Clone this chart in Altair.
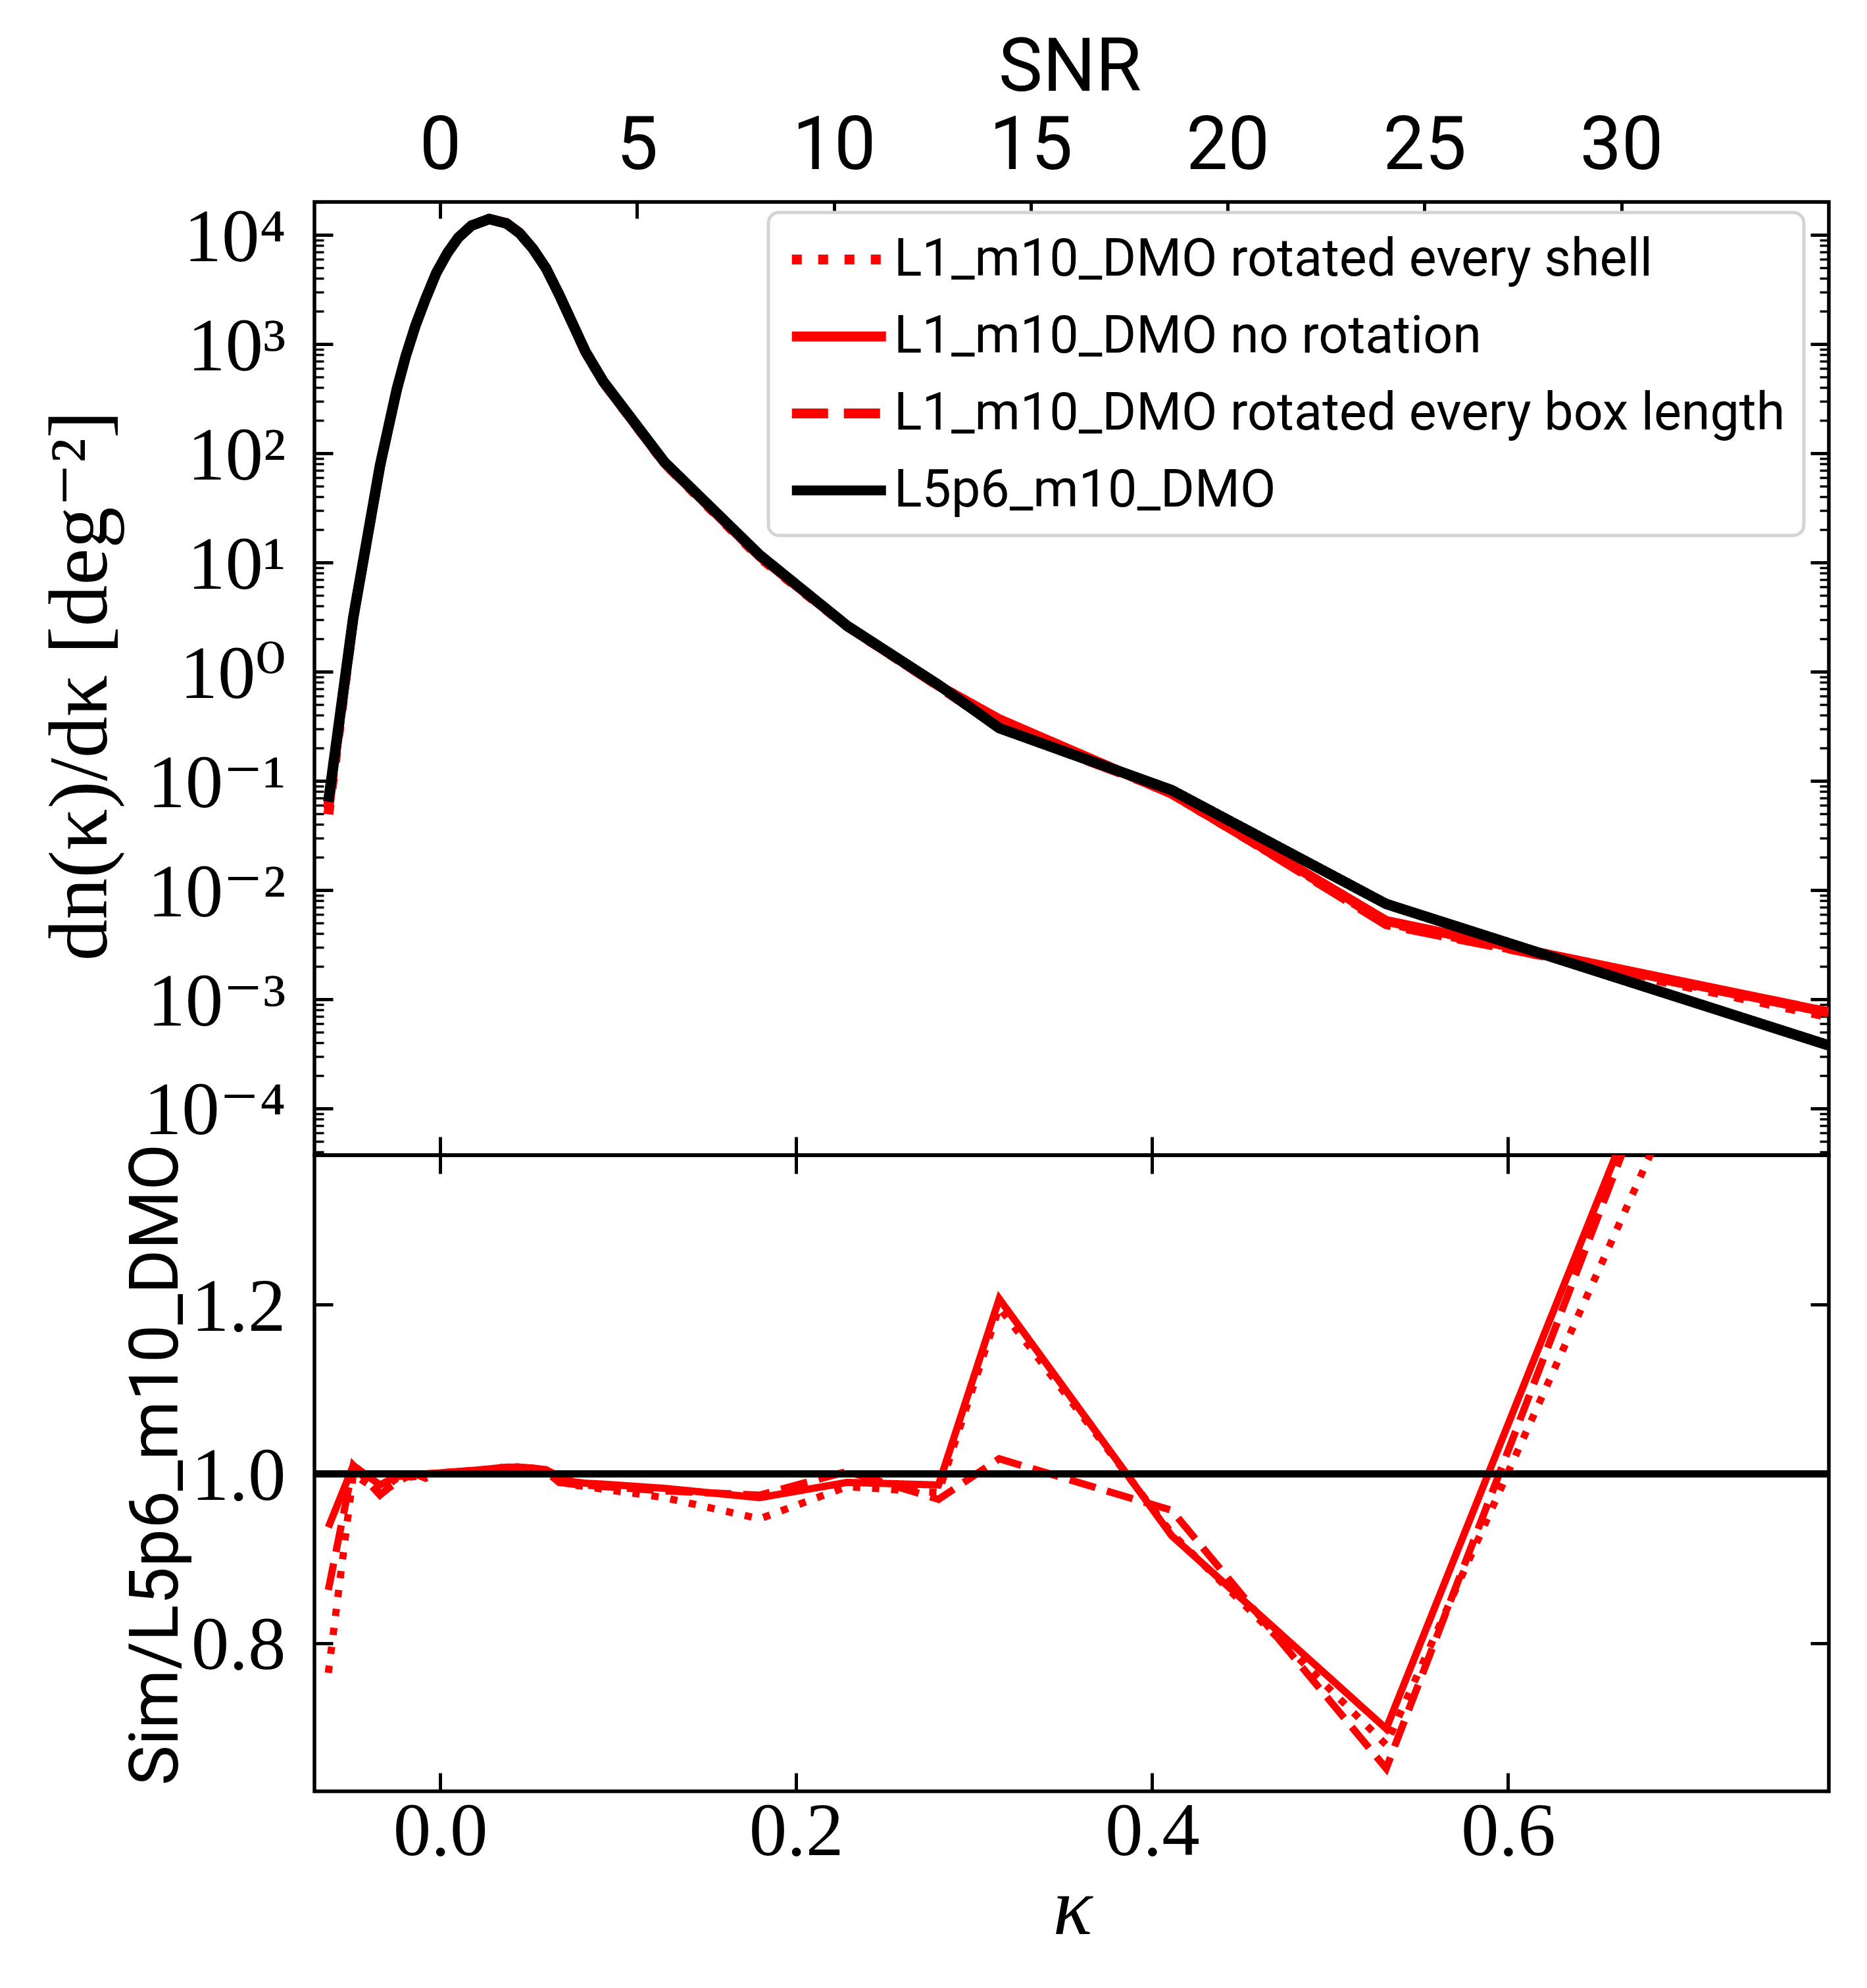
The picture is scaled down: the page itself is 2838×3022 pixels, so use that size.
import altair as alt
import pandas as pd

# ---------------- data ----------------
KAPPA = [-0.0628, -0.0488, -0.0338, -0.0292, -0.0243, -0.0193, -0.0138, -0.0082,
         -0.0021, 0.0041, 0.0102, 0.0176, 0.0275, 0.0373, 0.0447, 0.0521,
         0.0595, 0.0669, 0.0743, 0.0817, 0.0916, 0.1261, 0.1795, 0.2286,
         0.2800, 0.3141, 0.4110, 0.5315, 0.7800]
# log10 of dn/dkappa for the reference run L5p6_m10_DMO
LOG10_L5P6 = [-1.19, 0.495, 1.887, 2.229, 2.59, 2.892, 3.173, 3.414,
              3.655, 3.836, 3.976, 4.086, 4.146, 4.106, 4.016, 3.875,
              3.695, 3.454, 3.193, 2.932, 2.661, 1.92, 1.07, 0.422,
              -0.12, -0.516, -1.084, -2.127, -3.422]
# ratios Sim / L5p6_m10_DMO
RATIO_SHELL = [0.765, 1.000, 0.978, 0.987, 0.995, 0.996, 0.997, 1.000,
               1.001, 1.002, 1.003, 1.004, 1.005, 1.007, 1.006, 1.005,
               1.004, 0.993, 0.987, 0.985, 0.982, 0.972, 0.947, 0.985,
               0.978, 1.197, 0.930, 0.680, 1.848]
RATIO_NOROT = [0.937, 1.010, 0.987, 0.992, 0.997, 0.998, 0.999, 1.000,
               1.001, 1.002, 1.003, 1.004, 1.006, 1.008, 1.008, 1.007,
               1.005, 0.997, 0.991, 0.989, 0.988, 0.983, 0.972, 0.990,
               0.987, 1.207, 0.927, 0.699, 2.004]
RATIO_BOX = [0.863, 1.010, 0.975, 0.983, 0.990, 0.996, 1.000, 0.995,
             1.000, 1.001, 1.002, 1.005, 1.004, 1.009, 1.008, 1.006,
             1.003, 0.990, 0.988, 0.987, 0.985, 0.980, 0.975, 1.003,
             0.970, 1.018, 0.957, 0.652, 2.014]
REF_RATIO = [1.0]

SERIES = ["L1_m10_DMO rotated every shell",
          "L1_m10_DMO no rotation",
          "L1_m10_DMO rotated every box length",
          "L5p6_m10_DMO"]
RATIOS = [RATIO_SHELL, RATIO_NOROT, RATIO_BOX, [1.0] * len(KAPPA)]

SNR_TICKS = [0, 5, 10, 15, 20, 25, 30]
SIGMA_KAPPA = 0.02212          # kappa per unit SNR
KAPPA_TICKS = [0.0, 0.2, 0.4, 0.6]
RATIO_TICKS = [0.8, 1.0, 1.2]
Y_EXPONENTS = [-4, -3, -2, -1, 0, 1, 2, 3, 4]
Y_TICK_LABELS = ["10\u207b\u2074", "10\u207b\u00b3", "10\u207b\u00b2", "10\u207b\u00b9",
                 "10\u2070", "10\u00b9", "10\u00b2", "10\u00b3", "10\u2074"]

rows = []
for s, rat in zip(SERIES, RATIOS):
    for k, lg, r in zip(KAPPA, LOG10_L5P6, rat):
        rows.append({"series": s, "kappa": k, "ratio": r, "value": (10 ** lg) * r})
df = pd.DataFrame(rows)
df_red = df[df.series != SERIES[3]]
df_black = df[df.series == SERIES[3]]
df_ref = pd.DataFrame({"ratio": REF_RATIO})

# ---------------- layout / style ----------------
W, HT, HB = 2302, 1449, 967
KMIN, KMAX = -0.0706, 0.7802
YMIN, YMAX = 10 ** -4.428, 10 ** 4.303
RMIN, RMAX = 0.625, 1.3767
SERIF = "Liberation Serif, DejaVu Serif, serif"
SANS = "Roboto, DejaVu Sans, sans-serif"
MAJ, MIN_ = 28, 14
TW = 5

minor_vals = [m * 10.0 ** e for e in range(-5, 5) for m in range(2, 10)
              if YMIN <= m * 10.0 ** e <= YMAX]

xs = alt.Scale(domain=[KMIN, KMAX], nice=False, zero=False)
ys_top = alt.Scale(type="log", domain=[YMIN, YMAX], nice=False)
ys_bot = alt.Scale(domain=[RMIN, RMAX], nice=False, zero=False)
color_scale = alt.Scale(domain=SERIES, range=["#ff0000", "#ff0000", "#ff0000", "#000000"])
dash_scale = alt.Scale(domain=SERIES, range=[[15, 25], [1, 0], [55, 24], [1, 0]])

legend = alt.Legend(
    title=None, orient="none", legendX=690, legendY=16,
    symbolType="M-1,0H3", symbolSize=5112, symbolStrokeWidth=15,
    labelFont=SANS, labelFontSize=79, labelOffset=76, labelLimit=3000,
    rowPadding=33, padding=28, cornerRadius=16,
    fillColor="white", strokeColor="#d4d4d4",
)

y_expr = "[" + ",".join("'%s'" % t for t in Y_TICK_LABELS) + "][round(log(datum.value)/LN10)+%d]" % (-Y_EXPONENTS[0])

ax_top_left = alt.Axis(
    orient="left", offset=-MAJ, tickSize=MAJ, tickWidth=TW,
    values=[10.0 ** e for e in Y_EXPONENTS], labelExpr=y_expr,
    labelFont=SERIF, labelFontSize=115, labelPadding=44, labelLimit=1000,
    labelBaseline="alphabetic", labelOffset=39, labelOverlap=False,
    title="dn(\u03ba)/d\u03ba [deg\u207b\u00b2]", titleFont=SERIF, titleFontSize=126,
    titleFontWeight="normal", titleBaseline="alphabetic", titleX=-345, titleY=735,
    titleLimit=3000,
)
ax_top_left_minor = alt.Axis(orient="left", offset=-MIN_, tickSize=MIN_, tickWidth=3.5,
                             values=minor_vals, labels=False, title=None)
ax_top_right = alt.Axis(orient="right", offset=-MAJ, tickSize=MAJ, tickWidth=TW,
                        values=[10.0 ** e for e in Y_EXPONENTS], labels=False, title=None)
ax_top_right_minor = alt.Axis(orient="right", offset=-MIN_, tickSize=MIN_, tickWidth=3.5,
                              values=minor_vals, labels=False, title=None)
ax_top_bottom = alt.Axis(orient="bottom", offset=-MAJ, tickSize=MAJ, tickWidth=TW,
                         values=KAPPA_TICKS, labels=False, title=None)
ax_snr = alt.Axis(
    orient="top", offset=-25, tickSize=25, tickWidth=TW,
    values=[s * SIGMA_KAPPA for s in SNR_TICKS],
    labelExpr="format(datum.value/%f, '.0f')" % SIGMA_KAPPA,
    labelFont=SANS, labelFontSize=113, labelPadding=51, labelBaseline="alphabetic",
    labelFlush=False, labelOverlap=False,
    title="SNR", titleFont=SANS, titleFontSize=113, titleFontWeight="normal",
    titleBaseline="alphabetic", titleX=1148, titleY=-195,
)

red_top = alt.Chart(df_red).mark_line(clip=True, strokeWidth=15).encode(
    x=alt.X("kappa:Q", scale=xs, axis=ax_top_bottom),
    y=alt.Y("value:Q", scale=ys_top, axis=ax_top_left),
    color=alt.Color("series:N", scale=color_scale, legend=legend),
    strokeDash=alt.StrokeDash("series:N", scale=dash_scale, legend=legend),
)
black_top = alt.Chart(df_black).mark_line(clip=True, strokeWidth=16).encode(
    x=alt.X("kappa:Q", scale=xs, axis=ax_snr),
    y=alt.Y("value:Q", scale=ys_top, axis=ax_top_right),
    color=alt.Color("series:N", scale=color_scale, legend=legend),
    strokeDash=alt.StrokeDash("series:N", scale=dash_scale, legend=legend),
)
minor_l = alt.Chart(df_black).mark_line(strokeOpacity=0).encode(
    x=alt.X("kappa:Q", scale=xs, axis=None),
    y=alt.Y("value:Q", scale=ys_top, axis=ax_top_left_minor),
)
minor_r = alt.Chart(df_black).mark_line(strokeOpacity=0).encode(
    x=alt.X("kappa:Q", scale=xs, axis=None),
    y=alt.Y("value:Q", scale=ys_top, axis=ax_top_right_minor),
)
top = alt.layer(red_top, black_top, minor_l, minor_r).resolve_axis(
    x="independent", y="independent").properties(width=W, height=HT)

# ---------------- bottom (ratio) panel ----------------
ax_bot_x = alt.Axis(
    orient="bottom", offset=-MAJ, tickSize=MAJ, tickWidth=TW, values=KAPPA_TICKS,
    format=".1f", labelFont=SERIF, labelFontSize=115, labelPadding=96,
    labelBaseline="alphabetic", labelFlush=False, labelOverlap=False,
    title="\u03ba", titleFont=SERIF, titleFontSize=125, titleFontStyle="italic",
    titleFontWeight="normal", titleBaseline="alphabetic", titleX=1152, titleY=244,
)
ax_bot_y = alt.Axis(
    orient="left", offset=-MAJ, tickSize=MAJ, tickWidth=TW, values=RATIO_TICKS,
    format=".1f", labelFont=SERIF, labelFontSize=115, labelPadding=44,
    labelBaseline="alphabetic", labelOffset=39, labelOverlap=False,
    title="Sim/L5p6_m10_DMO", titleFont=SANS, titleFontSize=103, titleFontWeight="normal",
    titleBaseline="alphabetic", titleX=-237, titleY=470, titleLimit=3000,
)
ax_bot_right = alt.Axis(orient="right", offset=-MAJ, tickSize=MAJ, tickWidth=TW,
                        values=RATIO_TICKS, labels=False, title=None)
ax_bot_top = alt.Axis(orient="top", offset=-MAJ, tickSize=MAJ, tickWidth=TW,
                      values=KAPPA_TICKS, labels=False, title=None)

BOT_DASH = {SERIES[0]: [11, 18], SERIES[1]: [1, 0], SERIES[2]: [41, 18]}
bot_layers = []
for i, s in enumerate(SERIES[:3]):
    bot_layers.append(
        alt.Chart(df_red[df_red.series == s]).mark_line(
            clip=True, strokeWidth=11, color="#ff0000", strokeDash=BOT_DASH[s]
        ).encode(
            x=alt.X("kappa:Q", scale=xs, axis=ax_bot_x if i == 0 else None),
            y=alt.Y("ratio:Q", scale=ys_bot, axis=ax_bot_y if i == 0 else None),
        )
    )
ref_rule = alt.Chart(df_ref).mark_rule(strokeWidth=11, color="black").encode(
    y=alt.Y("ratio:Q", scale=ys_bot, axis=ax_bot_right),
)
bot_ticks = alt.Chart(df_black).mark_line(strokeOpacity=0).encode(
    x=alt.X("kappa:Q", scale=xs, axis=ax_bot_top),
    y=alt.Y("ratio:Q", scale=ys_bot, axis=None),
)
bottom = alt.layer(*bot_layers, ref_rule, bot_ticks).resolve_axis(
    x="independent", y="independent").properties(width=W, height=HB)

chart = alt.vconcat(top, bottom, spacing=0, bounds="flush").properties(
    padding={"left": 49, "top": 36, "right": 20, "bottom": 5},
).configure_view(
    stroke="black", strokeWidth=5.5
).configure_axis(
    domain=False, grid=False, tickColor="black", labelColor="black", titleColor="black"
).configure_legend(
    strokeWidth=5
)

chart.save("out.html", embed_options={"renderer": "svg", "actions": False})
